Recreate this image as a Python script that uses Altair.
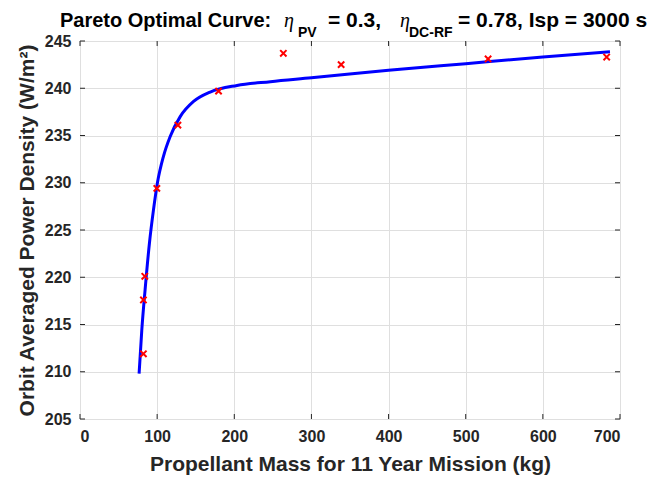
import altair as alt
import pandas as pd

# Pareto curve
curve_x = [76.6, 80.1, 84.4, 90.0, 95.2, 100.4, 108.2, 116.9, 129.9, 147.2, 168.8, 203.5, 246.8, 300.0, 400.0, 500.0, 600.0, 687.0]
curve_y = [209.8, 214.4, 218.7, 223.6, 227.1, 230.0, 232.8, 234.9, 237.0, 238.6, 239.6, 240.3, 240.7, 241.1, 241.9, 242.6, 243.3, 243.85]

# Sample points (red crosses)
pts_x = [82.2, 82.2, 84.0, 99.6, 126.9, 179.6, 263.6, 338.5, 529.0, 682.7]
pts_y = [211.9, 217.6, 220.1, 229.4, 236.1, 239.7, 243.7, 242.5, 243.1, 243.3]

x_ticks = [0, 100, 200, 300, 400, 500, 600, 700]
y_ticks = [205, 210, 215, 220, 225, 230, 235, 240, 245]

W, H = 540, 378
FONT = "Liberation Sans"
AXC = "#262626"

curve_df = pd.DataFrame({"x": curve_x, "y": curve_y})
pts_df = pd.DataFrame({"x": pts_x, "y": pts_y})
xt_df = pd.DataFrame({"x": x_ticks})
yt_df = pd.DataFrame({"y": y_ticks})

xs = alt.Scale(domain=[0, 700], nice=False, zero=False)
ys = alt.Scale(domain=[205, 245], nice=False, zero=False)

xaxis = alt.Axis(values=x_ticks, title="Propellant Mass for 11 Year Mission (kg)", grid=True,
                 gridColor="#dfdfdf", domain=False, ticks=False, labelFont=FONT, labelFontSize=16,
                 labelFontWeight="bold", labelColor=AXC, labelPadding=9, titleFont=FONT,
                 titleFontSize=21, titleFontWeight="bold", titleColor=AXC, titlePadding=9)
yaxis = alt.Axis(values=y_ticks, title="Orbit Averaged Power Density (W/m²)", grid=True,
                 gridColor="#dfdfdf", domain=False, ticks=False, labelFont=FONT, labelFontSize=16,
                 labelFontWeight="bold", labelColor=AXC, labelPadding=9, titleFont=FONT,
                 titleFontSize=21, titleFontWeight="bold", titleColor=AXC, titlePadding=7)

line = alt.Chart(curve_df).mark_line(color="#0000ff", strokeWidth=3, interpolate="monotone").encode(
    x=alt.X("x:Q", scale=xs, axis=xaxis),
    y=alt.Y("y:Q", scale=ys, axis=yaxis),
)

pts = alt.Chart(pts_df).mark_point(
    shape="M-1,-1L1,1M-1,1L1,-1", filled=False, color="#ff0000", strokeWidth=2, size=40, opacity=1
).encode(x=alt.X("x:Q", scale=xs), y=alt.Y("y:Q", scale=ys))

TL = 5
tick_style = dict(color=AXC, strokeWidth=1)
xt_bot = alt.Chart(xt_df).mark_rule(**tick_style).encode(
    x=alt.X("x:Q", scale=xs), y=alt.value(H), y2=alt.value(H - TL))
xt_top = alt.Chart(xt_df).mark_rule(**tick_style).encode(
    x=alt.X("x:Q", scale=xs), y=alt.value(0), y2=alt.value(TL))
yt_left = alt.Chart(yt_df).mark_rule(**tick_style).encode(
    y=alt.Y("y:Q", scale=ys), x=alt.value(0), x2=alt.value(TL))
yt_right = alt.Chart(yt_df).mark_rule(**tick_style).encode(
    y=alt.Y("y:Q", scale=ys), x=alt.value(W), x2=alt.value(W - TL))

one = alt.Data(values=[{}])


def txt(s, x, y, size, font=FONT, weight="bold", style="normal"):
    return alt.Chart(one).mark_text(
        text=s, align="left", baseline="alphabetic", font=font, fontSize=size,
        fontWeight=weight, fontStyle=style, color="#000000"
    ).encode(x=alt.value(x), y=alt.value(y))


TB = -14.5   # main title baseline (relative to plot top)
SB = -4      # subscript baseline
title_layers = [
    txt("Pareto Optimal Curve:", -20, TB, 20),
    txt("η", 204, TB, 20, font="Liberation Serif", weight="normal", style="italic"),
    txt("PV", 218, SB, 14),
    txt("= 0.3,", 248, TB, 21),
    txt("η", 320, TB, 20, font="Liberation Serif", weight="normal", style="italic"),
    txt("DC-RF", 329, SB, 14),
    txt("= 0.78, Isp = 3000 s", 378, TB, 21),
]

chart = alt.layer(line, xt_bot, xt_top, yt_left, yt_right, pts, *title_layers).properties(
    width=W, height=H,
    autosize=alt.AutoSizeParams(type="none"),
    padding={"left": 72, "top": 33, "right": 37, "bottom": 62},
).configure_view(stroke=AXC, strokeWidth=1).configure(background="white")

chart.save("out.html", embed_options={"renderer": "svg", "actions": False})
